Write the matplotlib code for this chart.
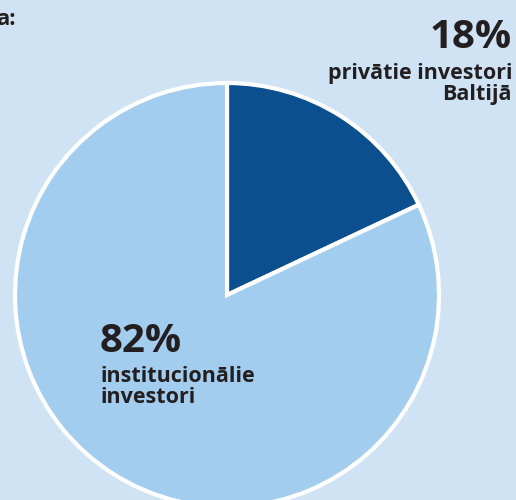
import matplotlib
matplotlib.use("Agg")
import matplotlib.pyplot as plt

labels = ["privātie investori\nBaltijā", "institucionālie\ninvestori"]
pct_labels = ["18%", "82%"]
values = [18, 82]
colors = ["#0b4f8f", "#a3cdee"]
bg = "#cfe3f5"
txt = "#231f20"

W, H = 516, 500
fig = plt.figure(figsize=(W / 100, H / 100), dpi=100, facecolor=bg)
ax = fig.add_axes([0, 0, 1, 1])
ax.set_facecolor(bg)

ax.pie(values, colors=colors, startangle=90, counterclock=False,
       center=(227, H - 295), radius=212, frame=True,
       wedgeprops=dict(edgecolor="white", linewidth=3))
ax.set_xlim(0, W)
ax.set_ylim(0, H)
ax.set_aspect("equal")
ax.axis("off")

fam = ["Open Sans", "DejaVu Sans"]
ax.text(-4, H - 25, "a:", fontsize=16, fontweight="bold", color=txt,
        family=fam, ha="left", va="baseline")

ax.text(512, H - 48, pct_labels[0], fontsize=29, fontweight="bold", color=txt,
        family=fam, ha="right", va="baseline")
ax.text(512, H - 100, labels[0], fontsize=15.5, fontweight="bold", color=txt,
        family=fam, ha="right", va="baseline", linespacing=1.0)

ax.text(100, H - 352, pct_labels[1], fontsize=29, fontweight="bold", color=txt,
        family=fam, ha="left", va="baseline")
ax.text(100, H - 403, labels[1], fontsize=15.5, fontweight="bold", color=txt,
        family=fam, ha="left", va="baseline", linespacing=1.0)

fig.savefig("out.png", dpi=100, facecolor=bg)
